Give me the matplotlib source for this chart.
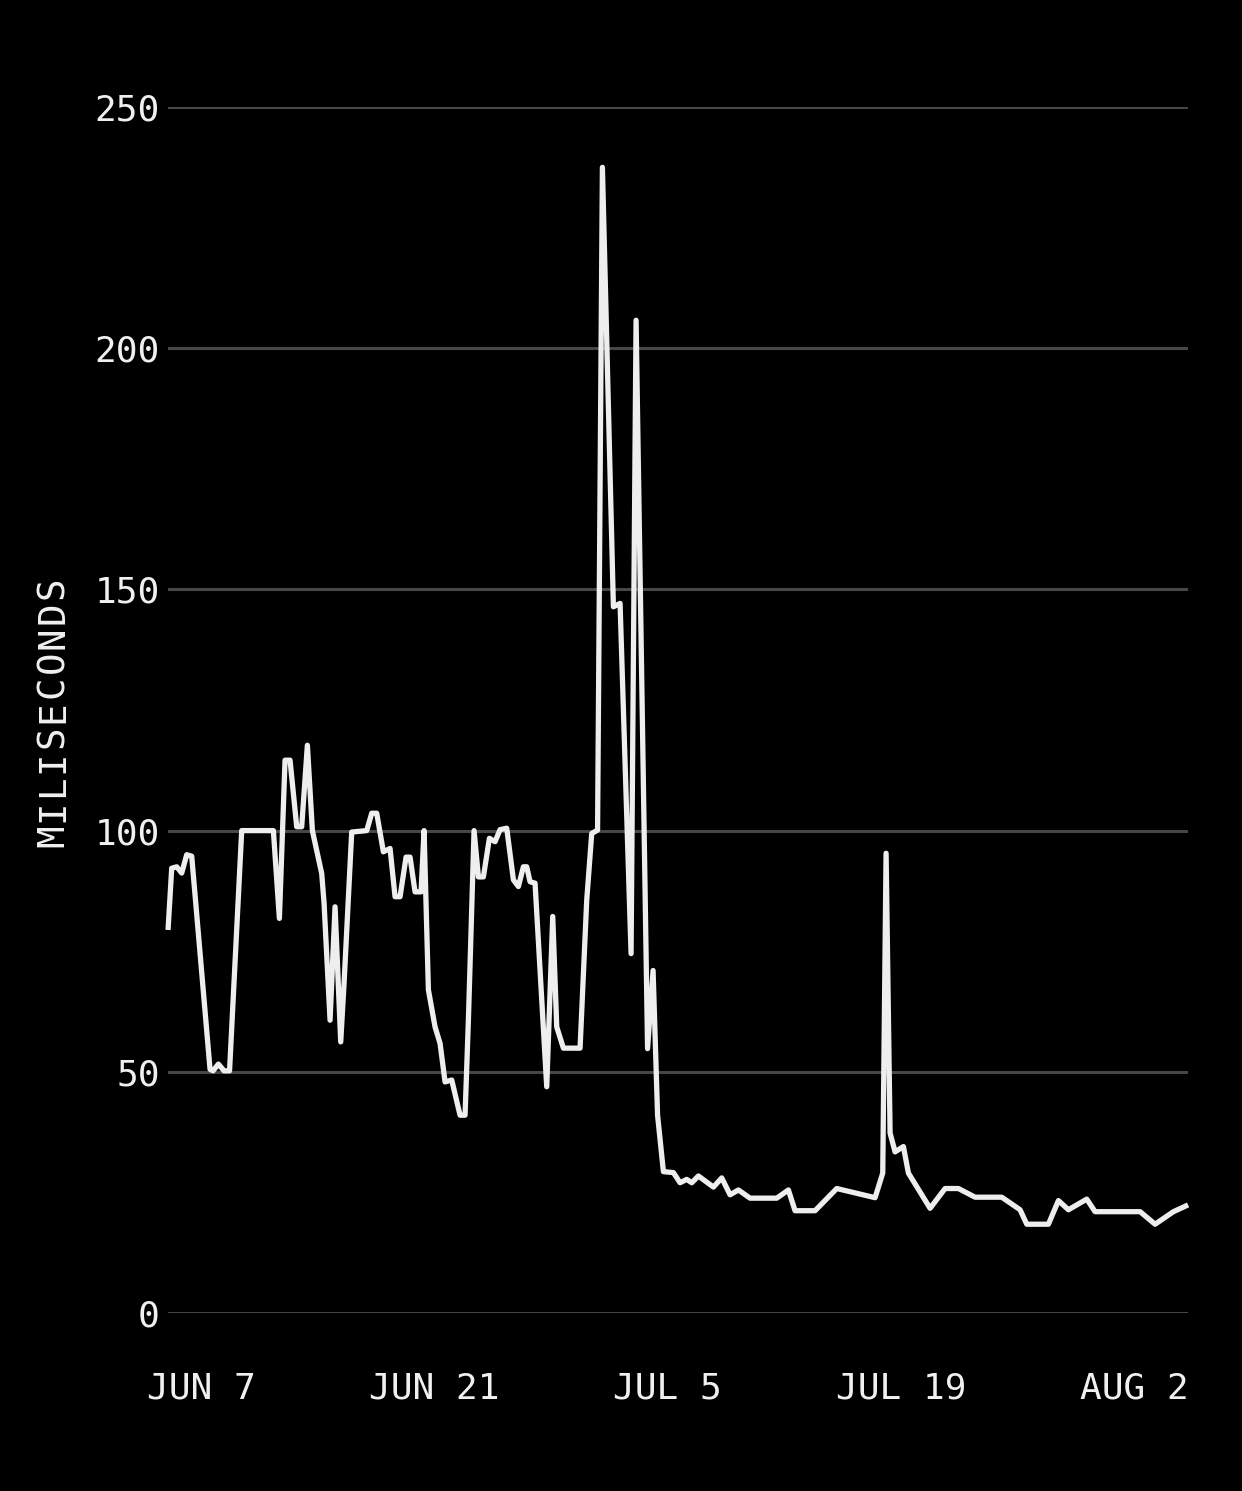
import matplotlib
matplotlib.use('Agg')
import matplotlib.pyplot as plt
import matplotlib.dates as mdates
import pandas as pd

# sample times, in days after Jun 7
days = [-1.98, -1.76, -1.46, -1.16, -0.86, -0.56, 0.54, 0.72, 1.04, 1.38,
        1.71, 2.44, 4.34, 4.70, 5.04, 5.34, 5.74, 6.04, 6.38, 6.68,
        7.24, 7.38, 7.74, 8.04, 8.38, 8.58, 9.04, 9.94, 10.24, 10.54,
        10.94, 11.34, 11.64, 11.94, 12.30, 12.54, 12.84, 13.20, 13.38, 13.64,
        14.04, 14.34, 14.64, 15.04, 15.54, 15.84, 16.04, 16.38, 16.64, 16.94,
        17.30, 17.64, 17.94, 18.34, 18.74, 19.04, 19.34, 19.54, 19.74, 20.04,
        20.74, 21.10, 21.34, 21.74, 22.74, 23.14, 23.44, 23.79, 24.08, 24.74,
        25.14, 25.80, 26.10, 26.79, 27.12, 27.39, 27.74, 28.34, 28.74, 29.14,
        29.44, 29.84, 30.74, 31.24, 31.74, 32.24, 32.94, 34.54, 35.24, 35.64,
        36.84, 38.14, 40.44, 40.90, 41.10, 41.34, 41.64, 42.14, 42.44, 43.74,
        44.64, 45.44, 46.44, 48.04, 49.14, 49.54, 50.84, 51.44, 52.04, 53.14,
        53.64, 56.34, 57.24, 58.34, 59.22]

ms = [79.4, 92.2, 92.5, 91.2, 95.0, 94.7, 50.5, 50.2, 51.6, 50.2,
      50.2, 100.0, 100.0, 81.8, 114.6, 114.6, 100.8, 100.8, 117.7, 100.0,
      91.1, 85.0, 60.7, 84.2, 56.2, 68.3, 99.7, 100.0, 103.6, 103.6,
      95.6, 96.3, 86.3, 86.3, 94.5, 94.5, 87.3, 87.3, 100.0, 67.0,
      59.3, 55.9, 47.9, 48.3, 41.0, 41.0, 60.7, 100.0, 90.4, 90.4,
      98.4, 97.7, 100.2, 100.5, 89.8, 88.4, 92.5, 92.5, 89.4, 89.1,
      46.9, 82.2, 59.3, 54.9, 54.9, 85.6, 99.4, 100.1, 237.5, 146.4,
      147.1, 74.5, 205.8, 54.8, 71.0, 41.0, 29.3, 29.1, 27.0, 27.7,
      27.0, 28.4, 26.1, 28.0, 24.5, 25.5, 23.8, 23.8, 25.5, 21.2,
      21.2, 25.8, 23.9, 29.0, 95.3, 37.3, 33.4, 34.5, 29.0, 21.7,
      25.8, 25.8, 24.0, 24.0, 21.4, 18.4, 18.4, 23.3, 21.4, 23.6,
      21.0, 21.0, 18.4, 21.0, 22.4]

tick_dates = ['2021-06-07', '2021-06-21', '2021-07-05', '2021-07-19', '2021-08-02']
y_ticks = [0, 50, 100, 150, 200, 250]
y_title = 'MILISECONDS'

base = pd.Timestamp('2021-06-07')
t = base + pd.to_timedelta(days, unit='D')

plt.rcParams['font.family'] = ['DejaVu Sans Mono']
fg = '#f0f0f0'
W, H = 1242, 1491

fig = plt.figure(figsize=(W / 100, H / 100), dpi=100, facecolor='black')
ax = fig.add_axes([0.1353, 0.1194, 0.8213, 0.8088])
ax.set_facecolor('black')

for v in y_ticks:
    ax.axhline(v, color='#474747', lw=2.2, zorder=1)

ax.plot(t, ms, color='#eeeeee', lw=3.8, solid_joinstyle='round',
        solid_capstyle='butt', zorder=3, clip_on=False)

ax.set_xlim(t[0], t[-1])
ax.set_ylim(0, 250)
ax.set_yticks(y_ticks)
ax.set_xticks(pd.to_datetime(tick_dates))
ax.xaxis.set_major_formatter(
    matplotlib.ticker.FuncFormatter(
        lambda x, pos: mdates.num2date(x).strftime('%b ').upper() + str(mdates.num2date(x).day)))

for s in ax.spines.values():
    s.set_visible(False)
ax.tick_params(axis='both', length=0, colors=fg, labelsize=26)
ax.tick_params(axis='y', pad=6)
ax.tick_params(axis='x', pad=42)

# axis title, letter-spaced a little wider than the font's own advance
step = 24.8
y0 = 848 - step / 2
for i, ch in enumerate(y_title):
    fig.text(53 / W, 1 - (y0 - i * step) / H, ch, rotation=90, color=fg,
             fontsize=27, ha='center', va='center')

fig.savefig('out.png', dpi=100, facecolor='black')
